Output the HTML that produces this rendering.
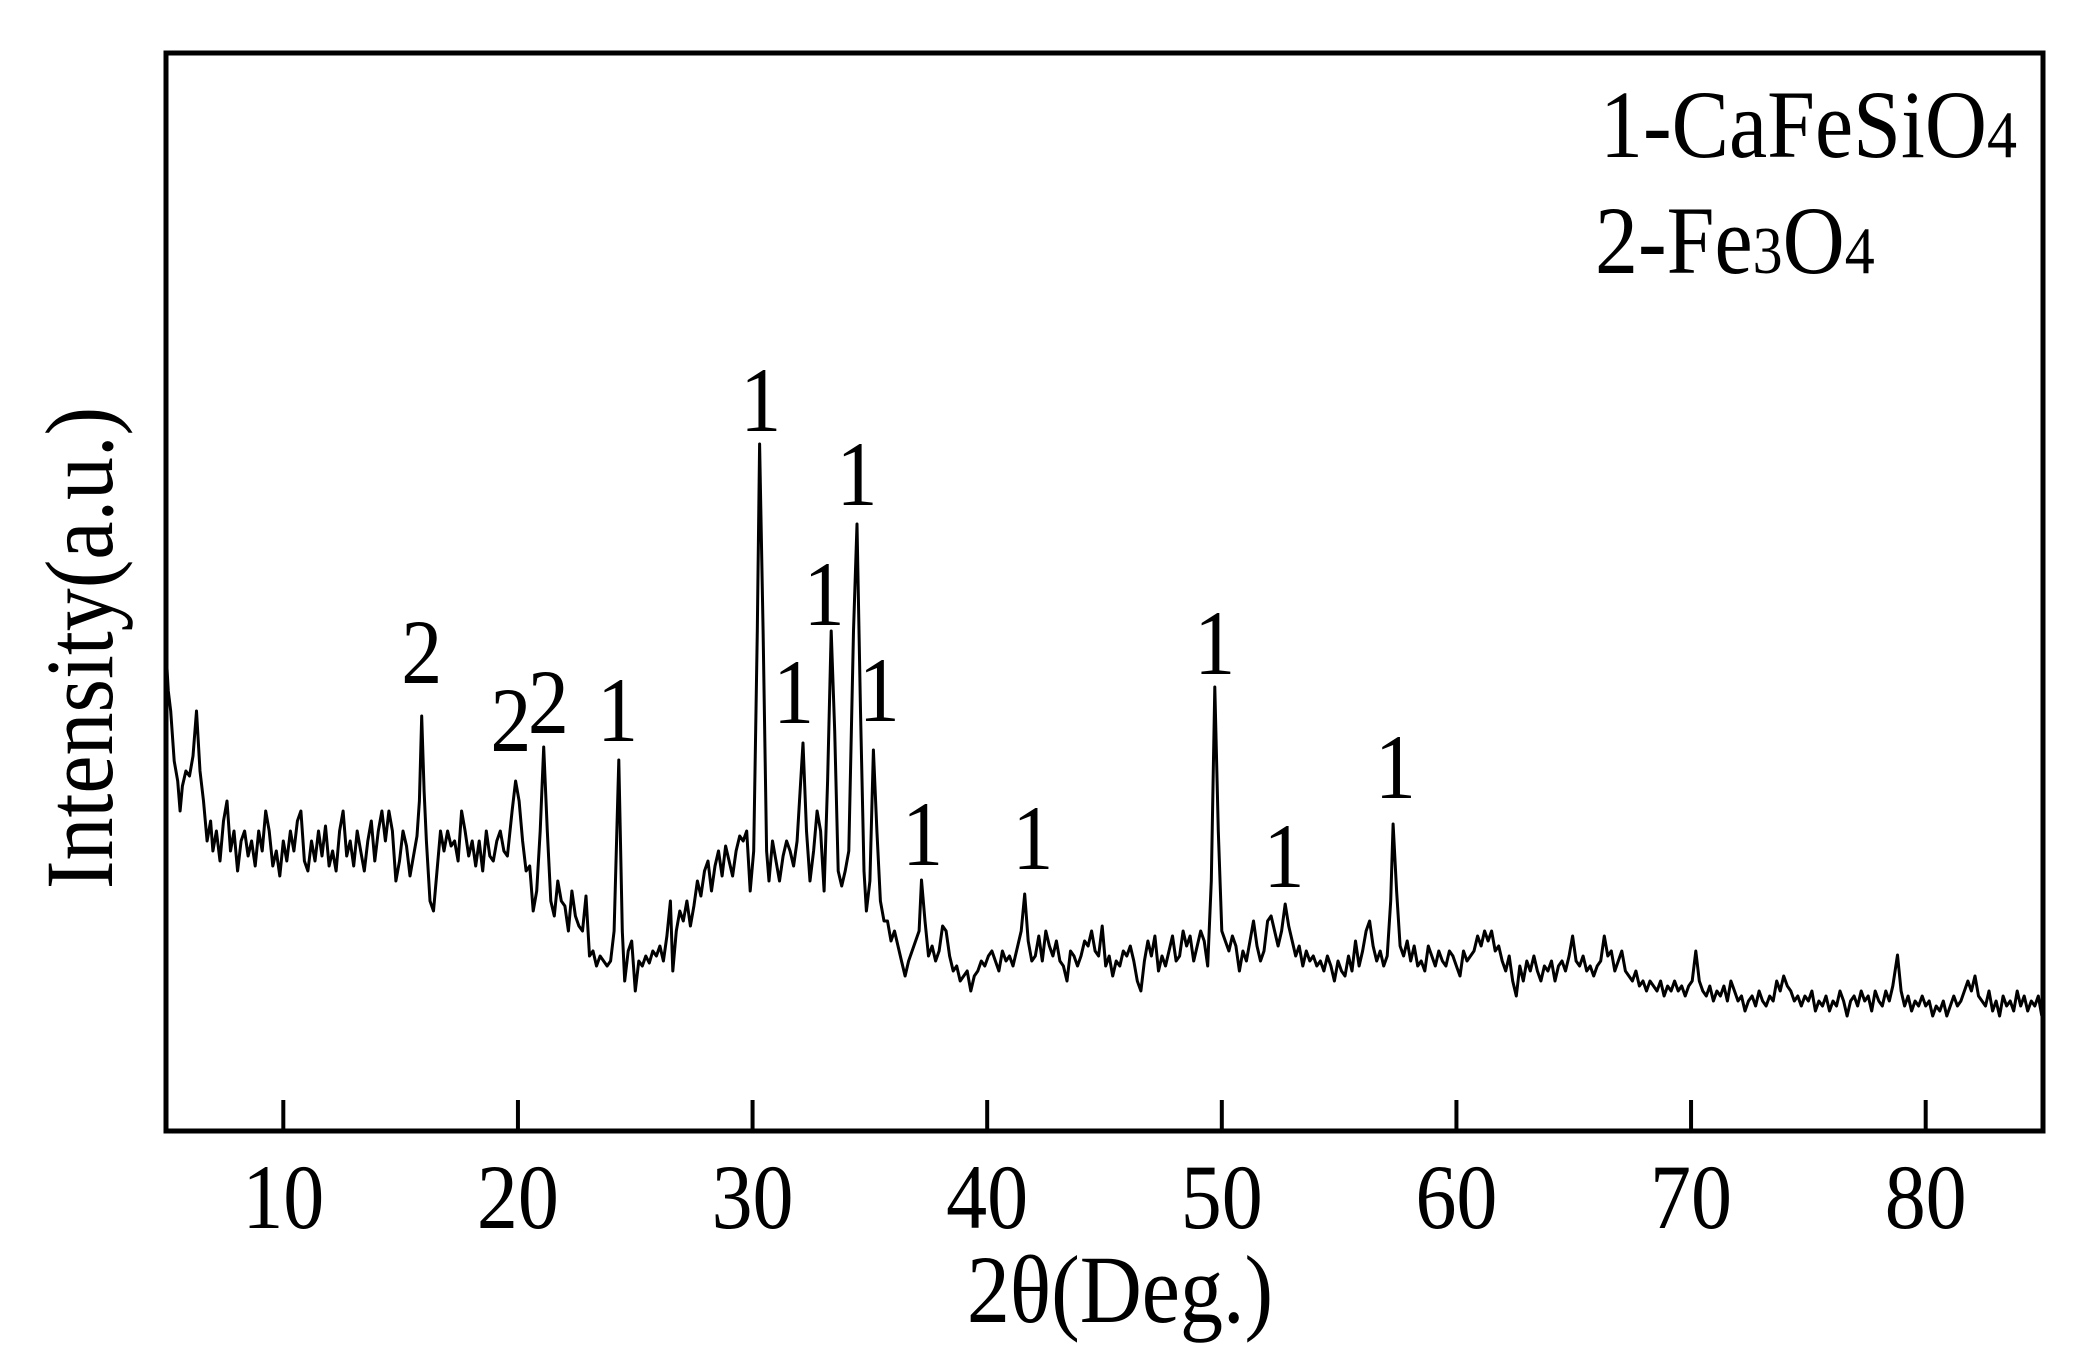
<!DOCTYPE html>
<html><head><meta charset="utf-8"><style>
html,body{margin:0;padding:0;background:#fff;}
svg{display:block;}
text{font-family:"Liberation Serif","Times New Roman",serif;fill:#000;}
</style></head><body>
<svg id="chart" width="2092" height="1364" viewBox="0 0 2092 1364" xmlns="http://www.w3.org/2000/svg">
<g id="plot"></g>
<g id="axes"></g>
<g id="labels"></g>
<g>
<text x="1600" y="157" font-size="86" transform="translate(0,157) scale(1,1.12) translate(0,-157)">1-CaFeSiO<tspan font-size="60">4</tspan></text>
<text x="1595" y="273" font-size="86" transform="translate(0,273) scale(1,1.12) translate(0,-273)">2-Fe<tspan font-size="60">3</tspan>O<tspan font-size="60">4</tspan></text>
</g>
<text x="1120" y="1322" font-size="86" text-anchor="middle" transform="translate(0,1322) scale(1,1.12) translate(0,-1322)">2θ(Deg.)</text>
<text x="0" y="0" font-size="86" text-anchor="middle" transform="translate(112,648) rotate(-90) scale(1,1.12)">Intensity(a.u.)</text>
</svg>
<script>
const twoTheta = [5.0,5.1,5.2,5.35,5.5,5.6,5.7,5.85,6.0,6.15,6.3,6.45,6.6,6.75,6.9,7.0,7.15,7.3,7.45,7.6,7.75,7.9,8.05,8.2,8.35,8.5,8.65,8.8,8.95,9.1,9.25,9.4,9.55,9.7,9.85,10.0,10.15,10.3,10.45,10.6,10.75,10.9,11.05,11.2,11.35,11.5,11.65,11.8,11.95,12.1,12.25,12.4,12.55,12.7,12.85,13.0,13.15,13.3,13.45,13.6,13.75,13.9,14.05,14.2,14.35,14.5,14.65,14.8,14.95,15.1,15.25,15.4,15.55,15.7,15.8,15.9,16.0,16.1,16.25,16.4,16.55,16.7,16.85,17.0,17.15,17.3,17.45,17.6,17.75,17.9,18.05,18.2,18.35,18.5,18.65,18.8,18.95,19.1,19.25,19.4,19.55,19.75,19.9,20.05,20.2,20.35,20.5,20.65,20.8,20.95,21.1,21.25,21.4,21.55,21.7,21.85,22.0,22.15,22.3,22.45,22.6,22.75,22.9,23.05,23.2,23.35,23.5,23.65,23.8,23.95,24.1,24.3,24.45,24.55,24.7,24.85,25.0,25.15,25.3,25.45,25.6,25.75,25.9,26.05,26.2,26.35,26.5,26.6,26.75,26.9,27.05,27.2,27.35,27.5,27.65,27.8,27.95,28.1,28.25,28.4,28.55,28.7,28.85,29.0,29.15,29.3,29.45,29.6,29.75,29.9,30.05,30.2,30.3,30.45,30.6,30.7,30.85,31.0,31.15,31.3,31.45,31.6,31.75,31.9,32.0,32.15,32.3,32.45,32.6,32.75,32.9,33.05,33.2,33.35,33.5,33.65,33.8,33.95,34.1,34.3,34.45,34.6,34.75,34.85,35.0,35.15,35.3,35.45,35.6,35.75,35.9,36.05,36.2,36.35,36.5,36.65,36.8,36.95,37.1,37.2,37.35,37.5,37.65,37.8,37.95,38.1,38.25,38.4,38.55,38.7,38.85,39.0,39.15,39.3,39.45,39.6,39.75,39.9,40.05,40.2,40.35,40.5,40.65,40.8,40.95,41.1,41.3,41.45,41.6,41.75,41.9,42.05,42.2,42.35,42.5,42.65,42.8,42.95,43.1,43.25,43.4,43.55,43.7,43.85,44.0,44.15,44.3,44.45,44.6,44.75,44.9,45.05,45.2,45.35,45.5,45.65,45.8,45.95,46.1,46.25,46.4,46.55,46.7,46.85,47.0,47.15,47.3,47.45,47.6,47.75,47.9,48.05,48.2,48.35,48.5,48.65,48.8,48.95,49.1,49.25,49.4,49.55,49.7,49.85,50.0,50.15,50.3,50.45,50.6,50.75,50.9,51.05,51.2,51.35,51.5,51.65,51.8,51.95,52.1,52.25,52.4,52.55,52.7,52.85,53.0,53.15,53.3,53.45,53.6,53.75,53.9,54.05,54.2,54.35,54.5,54.65,54.8,54.95,55.1,55.25,55.4,55.55,55.7,55.85,56.0,56.15,56.3,56.45,56.6,56.75,56.9,57.05,57.2,57.3,57.45,57.6,57.75,57.9,58.05,58.2,58.35,58.5,58.65,58.8,58.95,59.1,59.25,59.4,59.55,59.7,59.85,60.0,60.15,60.3,60.45,60.6,60.75,60.9,61.05,61.2,61.35,61.5,61.65,61.8,61.95,62.1,62.25,62.4,62.55,62.7,62.85,63.0,63.15,63.3,63.45,63.6,63.75,63.9,64.05,64.2,64.35,64.5,64.65,64.8,64.95,65.1,65.25,65.4,65.55,65.7,65.85,66.0,66.15,66.3,66.45,66.6,66.75,66.9,67.05,67.2,67.35,67.5,67.65,67.8,67.95,68.1,68.25,68.4,68.55,68.7,68.85,69.0,69.15,69.3,69.45,69.6,69.75,69.9,70.05,70.2,70.35,70.5,70.65,70.8,70.95,71.1,71.25,71.4,71.55,71.7,71.85,72.0,72.15,72.3,72.45,72.6,72.75,72.9,73.05,73.2,73.35,73.5,73.65,73.8,73.95,74.1,74.25,74.4,74.55,74.7,74.85,75.0,75.15,75.3,75.45,75.6,75.75,75.9,76.05,76.2,76.35,76.5,76.65,76.8,76.95,77.1,77.25,77.4,77.55,77.7,77.85,78.0,78.15,78.3,78.45,78.6,78.8,78.95,79.1,79.25,79.4,79.55,79.7,79.85,80.0,80.15,80.3,80.45,80.6,80.75,80.9,81.05,81.2,81.35,81.5,81.65,81.8,81.95,82.1,82.25,82.4,82.55,82.7,82.85,83.0,83.15,83.3,83.45,83.6,83.75,83.9,84.05,84.2,84.35,84.5,84.65,84.8,84.95];
const intensity = [480,440,420,370,350,320,345,360,355,375,420,360,330,290,310,280,300,270,310,330,280,300,260,290,300,275,290,265,300,280,320,300,265,280,255,290,270,300,280,310,320,270,260,290,270,300,275,305,265,280,260,300,320,275,290,265,300,280,260,290,310,270,300,320,290,320,300,250,270,300,285,255,275,295,330,415,340,290,230,220,260,300,280,300,285,290,270,320,300,275,290,265,290,260,300,275,270,290,300,280,275,320,350,330,290,260,265,220,240,300,384,300,230,215,250,230,225,200,240,215,205,200,235,175,180,165,175,170,165,170,200,371,200,150,180,190,140,170,165,175,168,180,175,185,170,195,230,160,200,220,210,230,205,225,250,235,260,270,240,265,280,255,285,270,255,280,295,290,300,240,280,500,687,500,280,250,290,270,250,275,290,280,265,290,330,388,300,250,280,320,300,240,350,500,400,260,245,260,280,500,607,420,260,220,250,381,300,230,210,210,190,200,185,170,155,170,180,190,200,251,210,175,185,170,180,205,200,175,160,165,150,155,160,140,155,160,170,165,175,180,170,160,180,170,175,165,185,200,237,190,170,175,195,170,200,185,175,190,170,165,150,180,175,165,175,190,185,200,180,175,205,165,175,155,170,165,180,175,185,170,150,140,170,190,175,195,160,175,165,180,195,170,175,200,185,195,170,185,200,190,165,250,444,300,200,190,180,195,185,160,180,170,190,210,185,170,180,210,215,200,185,200,227,205,190,175,185,165,180,170,175,165,170,160,175,165,150,170,160,155,175,160,190,165,180,200,210,185,170,180,165,175,230,307,240,185,175,190,170,185,165,170,160,185,175,165,180,170,165,180,175,165,155,180,170,175,180,195,185,200,190,200,180,185,170,160,175,150,135,165,150,170,160,175,160,150,165,160,170,150,165,170,160,175,195,170,165,175,160,165,155,165,170,195,175,180,160,170,180,160,155,150,160,145,150,140,150,145,140,150,135,145,140,150,140,145,135,145,150,180,150,140,135,145,130,140,135,145,130,150,140,130,135,120,130,135,125,140,130,125,135,130,150,140,155,145,140,130,135,125,135,130,140,120,130,125,135,120,130,125,140,130,115,130,135,125,140,130,135,120,140,130,125,140,130,145,176,140,125,135,120,130,125,135,125,130,115,125,120,130,115,125,135,125,130,140,150,140,155,135,130,125,140,120,130,115,135,125,130,120,140,125,135,120,130,125,135,115];
const xTicks = [10,20,30,40,50,60,70,80];
const xTickLabels = ["10","20","30","40","50","60","70","80"];
const peakLabelText = ["2","2","2","1","1","1","1","1","1","1","1","1","1","1"];
const peakLabelX = [15.9,19.7,21.3,24.25,30.35,31.75,33.05,34.45,35.4,37.25,41.95,49.7,52.65,57.4];
const peakLabelY = [440,372,390,382,692,400,498,618,402,258,254,449,236,325];

const X0=5, X1=85, PX0=166, PX1=2043, Y0=0, Y1=1078, PY0=1131, PY1=53;
const sx = v => PX0 + (v - X0) / (X1 - X0) * (PX1 - PX0);
const sy = v => PY0 - (v - Y0) / (Y1 - Y0) * (PY0 - PY1);
const NS = "http://www.w3.org/2000/svg";
const plot = document.getElementById('plot');
let d = '';
for (let i = 0; i < twoTheta.length; i++) d += (i ? 'L' : 'M') + sx(twoTheta[i]).toFixed(1) + ' ' + sy(intensity[i]).toFixed(1);
const path = document.createElementNS(NS, 'path');
path.setAttribute('d', d);
path.setAttribute('fill', 'none');
path.setAttribute('stroke', '#000');
path.setAttribute('stroke-width', '3');
path.setAttribute('stroke-linejoin', 'round');


plot.appendChild(path);

const axes = document.getElementById('axes');
const frame = document.createElementNS(NS, 'rect');
frame.setAttribute('x', PX0); frame.setAttribute('y', PY1);
frame.setAttribute('width', PX1 - PX0); frame.setAttribute('height', PY0 - PY1);
frame.setAttribute('fill', 'none'); frame.setAttribute('stroke', '#000'); frame.setAttribute('stroke-width', '5');


axes.appendChild(frame);
xTicks.forEach((t, i) => {
  const ln = document.createElementNS(NS, 'line');
  ln.setAttribute('x1', sx(t)); ln.setAttribute('x2', sx(t));
  ln.setAttribute('y1', PY0); ln.setAttribute('y2', PY0 - 31);
  ln.setAttribute('stroke', '#000'); ln.setAttribute('stroke-width', '4');
  
  
  axes.appendChild(ln);
  const tx = document.createElementNS(NS, 'text');
  tx.setAttribute('x', sx(t)); tx.setAttribute('y', 1228);
  tx.setAttribute('font-size', '82'); tx.setAttribute('text-anchor', 'middle');
  tx.setAttribute('transform', 'translate(0,1228) scale(1,1.12) translate(0,-1228)');
  tx.textContent = xTickLabels[i];
  
  
  axes.appendChild(tx);
});
const labels = document.getElementById('labels');
peakLabelText.forEach((s, i) => {
  const tx = document.createElementNS(NS, 'text');
  const y = sy(peakLabelY[i]) - 8;
  tx.setAttribute('x', sx(peakLabelX[i])); tx.setAttribute('y', y);
  tx.setAttribute('font-size', '82'); tx.setAttribute('text-anchor', 'middle');
  tx.setAttribute('transform', 'translate(0,' + y + ') scale(1,1.12) translate(0,' + (-y) + ')');
  tx.textContent = s;
  
  
  labels.appendChild(tx);
});
</script>
</body></html>
